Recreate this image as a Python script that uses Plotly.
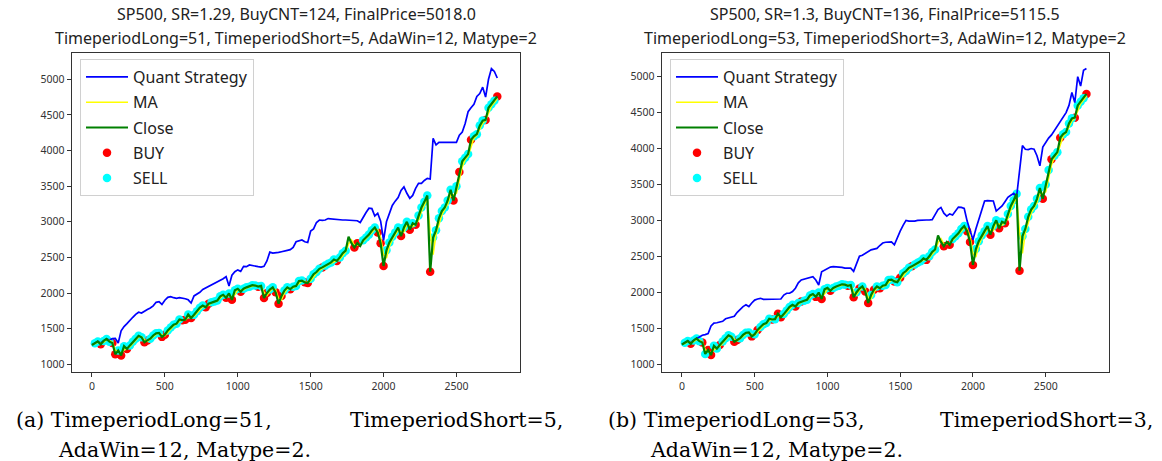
import plotly.graph_objects as go

W, H = 1162, 461

# trading-day index of each sample
day = list(range(0, 2781, 20))

close = [
    1271, 1296, 1321, 1281, 1328, 1356, 1318, 1300, 1140, 1195,
    1125, 1255, 1215, 1265, 1315, 1360, 1400, 1380, 1310, 1335,
    1360, 1405, 1435, 1440, 1385, 1415, 1475, 1515, 1555, 1570,
    1630, 1620, 1625, 1700, 1650, 1695, 1745, 1795, 1825, 1800,
    1850, 1870, 1880, 1895, 1955, 1975, 1935, 1995, 1905, 2040,
    2060, 2020, 2060, 2080, 2090, 2110, 2105, 2090, 2100, 1930,
    2000, 2050, 2080, 2010, 1850, 1960, 2035, 2080, 2055, 2090,
    2100, 2170, 2175, 2150, 2140, 2200, 2265, 2295, 2340, 2360,
    2385, 2410, 2430, 2470, 2450, 2500, 2560, 2595, 2790, 2700,
    2640, 2700, 2660, 2740, 2780, 2820, 2880, 2920, 2850, 2700,
    2380, 2600, 2710, 2790, 2850, 2920, 2800, 2920, 3000, 2890,
    2980, 2960, 3090, 3200, 3280, 3370, 2300, 2780, 2880, 3050,
    3150, 3200, 3300, 3450, 3300, 3500, 3700, 3850, 3900, 3950,
    4150, 4200, 4230, 4350, 4420, 4430, 4600, 4650, 4700, 4760,
]

ma = [
    1271, 1285, 1310, 1298, 1310, 1342, 1335, 1308, 1200, 1170,
    1160, 1200, 1232, 1245, 1292, 1340, 1382, 1390, 1340, 1322,
    1350, 1385, 1422, 1438, 1410, 1400, 1448, 1497, 1537, 1563,
    1602, 1625, 1620, 1665, 1672, 1675, 1722, 1772, 1812, 1810,
    1828, 1862, 1876, 1888, 1928, 1966, 1952, 1968, 1945, 1975,
    2050, 2038, 2042, 2072, 2086, 2100, 2108, 2097, 2095, 2010,
    1965, 2025, 2066, 2045, 1925, 1905, 2000, 2060, 2068, 2072,
    2096, 2135, 2172, 2162, 2145, 2170, 2232, 2280, 2318, 2350,
    2372, 2398, 2420, 2450, 2460, 2475, 2530, 2578, 2690, 2745,
    2670, 2680, 2680, 2720, 2760, 2800, 2850, 2900, 2885, 2775,
    2540, 2490, 2655, 2750, 2820, 2885, 2860, 2860, 2960, 2945,
    2935, 2970, 3025, 3145, 3240, 3325, 2835, 2540, 2830, 2965,
    3100, 3175, 3250, 3375, 3375, 3400, 3600, 3775, 3875, 3925,
    4050, 4175, 4215, 4290, 4385, 4425, 4515, 4625, 4675, 4730,
]

quant_a = [
    1271, 1295, 1320, 1300, 1330, 1355, 1340, 1360, 1365, 1300,
    1470, 1530, 1570, 1620, 1660, 1700, 1730, 1720, 1750, 1770,
    1790, 1820, 1870, 1880, 1840, 1900, 1940, 1950, 1935, 1925,
    1935, 1930, 1920, 1905, 1860, 1960, 1985, 2010, 2050, 2070,
    2100, 2115, 2140, 2160, 2175, 2200, 2230, 2100, 2250, 2300,
    2325, 2305, 2375, 2370, 2395, 2385, 2370, 2370, 2365, 2375,
    2450, 2575, 2560, 2560, 2570, 2580, 2585, 2600, 2610, 2640,
    2720, 2735, 2745, 2720, 2710, 2870, 2900, 2990, 3025, 3020,
    3025, 3045, 3040, 3030, 3025, 3025, 3025, 3025, 3020, 3025,
    3020, 3015, 2990, 3070, 3130, 3190, 3185, 3080, 3120, 3010,
    2740, 3000, 3110, 3230, 3290, 3340, 3440, 3490, 3400, 3330,
    3370, 3470, 3540, 3540, 3580, 3610, 3600, 4170, 4080, 4115,
    4115, 4115, 4115, 4112, 4115, 4115, 4215, 4260, 4380, 4545,
    4600, 4650, 4760, 4800, 4890, 4750, 5000, 5150, 5110, 5018,
]

quant_b = [
    1271, 1295, 1320, 1300, 1330, 1355, 1375, 1400, 1410, 1425,
    1530, 1570, 1575, 1585, 1595, 1630, 1645, 1655, 1665, 1720,
    1760, 1800, 1825, 1800, 1850, 1890, 1905, 1915, 1900, 1900,
    1905, 1900, 1895, 1900, 1905, 1960, 1985, 1985, 2010, 2055,
    2130, 2170, 2180, 2195, 2205, 2215, 2170, 2100, 2285, 2310,
    2335, 2350, 2355, 2355, 2355, 2345, 2335, 2330, 2335, 2290,
    2400, 2500, 2515, 2540, 2575, 2590, 2600, 2610, 2650, 2685,
    2695, 2700, 2700, 2660, 2760, 2850, 2930, 3000, 2990, 2985,
    2990, 3000, 3005, 3005, 3005, 3005, 3010, 3080, 3150, 3180,
    3100, 3060, 3090, 3075, 3130, 3185, 3180, 3165, 2990, 2850,
    2730, 2880, 3010, 3150, 3270, 3275, 3275, 3270, 3130, 3160,
    3200, 3260, 3320, 3350, 3375, 3330, 3700, 4040, 3990, 3985,
    4000, 3990, 3900, 3760, 4020, 4090, 4145, 4190, 4250, 4310,
    4370, 4430, 4500, 4600, 4780, 4640, 5000, 4870, 5090, 5115.5,
]

# signal days (the marks sit on the close price of that day)
buy_a_day = [60, 140, 160, 200, 240, 360, 380, 480, 500, 620, 640, 680, 780, 800,
             920, 960, 1020, 1140, 1180, 1200, 1260, 1280, 1300, 1360, 1460, 1480,
             1580, 1680, 1800, 1820, 1960, 1980, 2000, 2120, 2180, 2220, 2320, 2480,
             2520, 2600, 2700, 2780]
sell_a_day = [20, 40, 80, 100, 120, 180, 220, 260, 280, 300, 320, 340, 400, 420, 440,
              460, 520, 540, 560, 580, 600, 660, 700, 720, 740, 760, 820, 840, 860, 880,
              900, 940, 980, 1000, 1040, 1060, 1080, 1100, 1120, 1160, 1220, 1240, 1320,
              1340, 1380, 1400, 1420, 1440, 1500, 1520, 1540, 1560, 1600, 1620, 1640,
              1660, 1700, 1720, 1740, 1860, 1880, 1900, 1920, 1940, 2020, 2040, 2060,
              2080, 2100, 2140, 2160, 2200, 2240, 2260, 2280, 2300, 2340, 2360, 2380,
              2400, 2420, 2440, 2460, 2500, 2540, 2560, 2580, 2620, 2640, 2660, 2680,
              2720, 2740, 2760]

buy_b_day = [60, 140, 180, 200, 260, 360, 380, 480, 520, 620, 660, 680, 780, 820,
             920, 960, 1020, 1140, 1180, 1220, 1260, 1280, 1320, 1360, 1460, 1500,
             1580, 1680, 1800, 1840, 1960, 1980, 2000, 2120, 2180, 2220, 2320, 2480,
             2540, 2600, 2700, 2780]
sell_b_day = [20, 40, 80, 100, 120, 160, 220, 240, 280, 300, 320, 340, 400, 420, 440,
              460, 500, 540, 560, 580, 600, 640, 700, 720, 740, 760, 800, 840, 860, 880,
              900, 940, 980, 1000, 1040, 1060, 1080, 1100, 1120, 1160, 1200, 1240, 1300,
              1340, 1380, 1400, 1420, 1440, 1480, 1520, 1540, 1560, 1600, 1620, 1640,
              1660, 1700, 1720, 1740, 1860, 1880, 1900, 1920, 1940, 2020, 2040, 2060,
              2080, 2100, 2140, 2160, 2200, 2240, 2260, 2280, 2300, 2340, 2360, 2380,
              2400, 2420, 2440, 2460, 2500, 2520, 2560, 2580, 2620, 2640, 2660, 2680,
              2720, 2740, 2760]

titles_a = ["SP500, SR=1.29, BuyCNT=124, FinalPrice=5018.0",
            "TimeperiodLong=51, TimeperiodShort=5, AdaWin=12, Matype=2"]
titles_b = ["SP500, SR=1.3, BuyCNT=136, FinalPrice=5115.5",
            "TimeperiodLong=53, TimeperiodShort=3, AdaWin=12, Matype=2"]
caption_a = ["(a) TimeperiodLong=51,", "TimeperiodShort=5,", "AdaWin=12, Matype=2."]
caption_b = ["(b) TimeperiodLong=53,", "TimeperiodShort=3,", "AdaWin=12, Matype=2."]

x_ticks = [0, 500, 1000, 1500, 2000, 2500]
y_ticks = [1000, 1500, 2000, 2500, 3000, 3500, 4000, 4500, 5000]

SANS = "Noto Sans, Open Sans, sans-serif"
SERIF = "DejaVu Serif, Liberation Serif, serif"


def px(x):
    return x / W


def py(y):
    return 1 - y / H


def on_close(days):
    return [close[day.index(d)] for d in days]


fig = go.Figure()


def add_panel(quant, bx, sx, xa, ya, leg):
    common = dict(xaxis=xa, yaxis=ya, legend=leg)
    fig.add_trace(go.Scatter(x=bx, y=on_close(bx), mode="markers", name="BUY",
                             marker=dict(color="red", size=8.5, line=dict(width=0)),
                             legendrank=4, legendgroup=leg + "buy", **common))
    fig.add_trace(go.Scatter(x=sx, y=on_close(sx), mode="markers", name="SELL",
                             marker=dict(color="cyan", size=8.5, line=dict(width=0)),
                             legendrank=5, legendgroup=leg + "sell", **common))
    fig.add_trace(go.Scatter(x=day, y=quant, mode="lines", name="Quant Strategy",
                             line=dict(color="blue", width=1.7),
                             legendrank=1, legendgroup=leg + "quant", **common))
    fig.add_trace(go.Scatter(x=day, y=ma, mode="lines", name="MA",
                             line=dict(color="yellow", width=1.6),
                             legendrank=2, legendgroup=leg + "ma", **common))
    fig.add_trace(go.Scatter(x=day, y=close, mode="lines", name="Close",
                             line=dict(color="green", width=2.2),
                             legendrank=3, legendgroup=leg + "close", **common))


add_panel(quant_a, buy_a_day, sell_a_day, "x", "y", "legend")
add_panel(quant_b, buy_b_day, sell_b_day, "x2", "y2", "legend2")

axis_style = dict(showline=True, mirror=True, linecolor="#333", linewidth=1,
                  ticks="outside", ticklen=4, tickcolor="#333", showgrid=False,
                  zeroline=False, tickfont=dict(family=SANS, size=10.5, color="#333"))

legend_style = dict(xanchor="left", yanchor="top", bgcolor="rgba(255,255,255,0.8)",
                    bordercolor="#d0d0d0", borderwidth=1, itemwidth=42,
                    font=dict(family=SANS, size=16, color="#222"), tracegroupgap=1.5)

ann = []
for cx, lines in [(296, titles_a), (885, titles_b)]:
    for i, t in enumerate(lines):
        ann.append(dict(text=t, x=px(cx), y=py(14 + 23.5 * i), xref="paper", yref="paper",
                        xanchor="center", yanchor="middle", showarrow=False,
                        font=dict(family=SANS, size=16, color="#222")))
for (l1, r1, l2), cap in [((14, 565, 56), caption_a), ((606, 1155, 648), caption_b)]:
    ann.append(dict(text=cap[0], x=px(l1), y=py(420), xanchor="left"))
    ann.append(dict(text=cap[1], x=px(r1), y=py(420), xanchor="right"))
    ann.append(dict(text=cap[2], x=px(l2), y=py(450), xanchor="left"))
for a in ann[4:]:
    a.update(xref="paper", yref="paper", yanchor="middle", showarrow=False,
             font=dict(family=SERIF, size=20.5, color="black"))

fig.update_layout(
    width=W, height=H, margin=dict(l=0, r=0, t=0, b=0),
    paper_bgcolor="white", plot_bgcolor="white",
    xaxis=dict(domain=[px(71.7), px(520)], range=[-139, 2936], tickvals=x_ticks,
               anchor="y", **axis_style),
    yaxis=dict(domain=[py(372), py(53)], range=[892, 5369], tickvals=y_ticks,
               anchor="x", **axis_style),
    xaxis2=dict(domain=[px(661.7), px(1109)], range=[-139, 2935], tickvals=x_ticks,
                anchor="y2", **axis_style),
    yaxis2=dict(domain=[py(372), py(53)], range=[889, 5330], tickvals=y_ticks,
                anchor="x2", **axis_style),
    legend=dict(x=px(80), y=py(59), **legend_style),
    legend2=dict(x=px(670), y=py(59), **legend_style),
    annotations=ann,
)

fig.write_html("out.html", config={"displayModeBar": False},
               post_script="document.body.style.margin='0';")
